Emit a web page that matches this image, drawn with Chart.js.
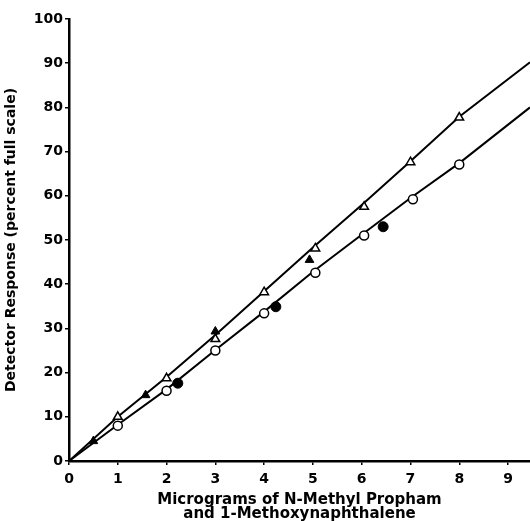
<!DOCTYPE html>
<html lang="en">
<head>
<meta charset="UTF-8">
<title>Detector Response</title>
<script src="https://cdn.jsdelivr.net/npm/chart.js@4.4.1/dist/chart.umd.min.js"></script>
<style>
    body { margin: 0; padding: 0; background: #fff; }
    canvas { display: block; }
</style>
</head>
<body>
<canvas id="chart" width="530" height="521"></canvas>
<script>
// N-Methyl Propham (triangles) and 1-Methoxynaphthalene (circles)
const triOpenX = [1, 2, 3, 4, 5.05, 6.05, 7, 8];
const triOpenY = [10, 18.7, 27.6, 38.2, 48.1, 57.5, 67.6, 77.7];
const triFilledX = [0.5, 1.57, 3, 4.93];
const triFilledY = [4.5, 14.9, 29.3, 45.5];
const circOpenX = [1, 2, 3, 4, 5.05, 6.05, 7.05, 8];
const circOpenY = [8, 15.9, 25, 33.4, 42.6, 51, 59.2, 67.1];
const circFilledX = [2.23, 4.24, 6.44];
const circFilledY = [17.6, 34.9, 53];

// drawn curves (origin to right edge)
const upperLineX = [0, 1, 2, 3, 4, 5, 6, 7, 8, 9.45];
const upperLineY = [0, 10, 19, 28.5, 38.4, 48.3, 57.9, 67.8, 77.9, 90.2];
const lowerLineX = [0, 1, 2, 3, 4, 5, 6, 7, 8, 9.45];
const lowerLineY = [0, 8.2, 16.2, 25.1, 33.8, 42.8, 51.2, 59.5, 67.4, 80];

const xTicks = [0, 1, 2, 3, 4, 5, 6, 7, 8, 9];
const yTicks = [0, 10, 20, 30, 40, 50, 60, 70, 80, 90, 100];

const pts = (xs, ys) => xs.map((x, i) => ({ x: x, y: ys[i] }));

const font = "'DejaVu Sans', sans-serif";

const ctx = document.getElementById('chart').getContext('2d');
new Chart(ctx, {
    type: 'scatter',
    data: {
        datasets: [
            {
                data: pts(upperLineX, upperLineY),
                showLine: true, borderColor: '#000', borderWidth: 2,
                pointRadius: 0, tension: 0, order: 5
            },
            {
                data: pts(lowerLineX, lowerLineY),
                showLine: true, borderColor: '#000', borderWidth: 2,
                pointRadius: 0, tension: 0, order: 5
            },
            {
                data: pts(triOpenX, triOpenY),
                pointStyle: 'triangle', pointRadius: 5,
                backgroundColor: '#fff', borderColor: '#000', borderWidth: 1.5, order: 1
            },
            {
                data: pts(circOpenX, circOpenY),
                pointStyle: 'circle', pointRadius: 4.5,
                backgroundColor: '#fff', borderColor: '#000', borderWidth: 1.5, order: 1
            },
            {
                data: pts(triFilledX, triFilledY),
                pointStyle: 'triangle', pointRadius: 5,
                backgroundColor: '#000', borderColor: '#000', borderWidth: 1, order: 1
            },
            {
                data: pts(circFilledX, circFilledY),
                pointStyle: 'circle', pointRadius: 5,
                backgroundColor: '#000', borderColor: '#000', borderWidth: 1, order: 1
            }
        ]
    },
    options: {
        responsive: false,
        animation: false,
        events: [],
        layout: { autoPadding: false, padding: { left: 0, top: 19, right: 0, bottom: 0 } },
        plugins: { legend: { display: false }, tooltip: { enabled: false } },
        scales: {
            x: {
                type: 'linear', min: 0, max: 9.45,
                afterBuildTicks: s => { s.ticks = xTicks.map(v => ({ value: v })); },
                afterFit: s => { s.height = 60; s.paddingRight = 0; },
                border: { display: true, color: '#000', width: 2.5 },
                grid: { drawOnChartArea: false, color: '#000', tickLength: 4, lineWidth: 1.5 },
                ticks: { color: '#000', padding: 6, autoSkip: false, maxRotation: 0,
                         font: { family: font, size: 14, weight: 'bold' } },
                title: {
                    display: true,
                    text: ['Micrograms of N-Methyl Propham', 'and 1-Methoxynaphthalene'],
                    color: '#000',
                    font: { family: font, size: 15, weight: 'bold', lineHeight: 0.95 },
                    padding: { top: 0, bottom: 0 }
                }
            },
            y: {
                type: 'linear', min: 0, max: 100,
                afterBuildTicks: s => { s.ticks = yTicks.map(v => ({ value: v })); },
                afterFit: s => { s.width = 69; },
                border: { display: true, color: '#000', width: 2.5 },
                grid: { drawOnChartArea: false, color: '#000', tickLength: 4, lineWidth: 1.5 },
                ticks: { color: '#000', padding: 2, autoSkip: false,
                         font: { family: font, size: 14, weight: 'bold' } },
                title: {
                    display: true,
                    text: 'Detector Response (percent full scale)',
                    color: '#000',
                    font: { family: font, size: 14, weight: 'bold' },
                    padding: { top: 3, bottom: 0 }
                }
            }
        }
    }
});
</script>
</body>
</html>
